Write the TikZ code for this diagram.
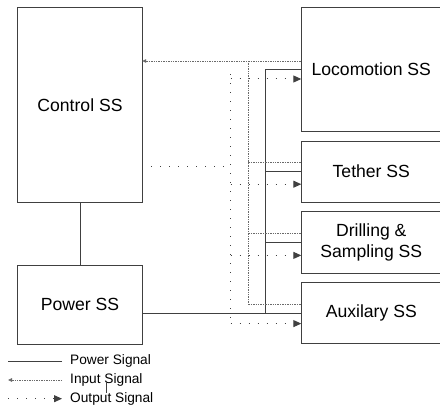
\documentclass[tikz,border=0pt]{standalone}
\usepackage{fontspec}
\setmainfont{Liberation Sans}
\usetikzlibrary{positioning, arrows.meta, calc}
\definecolor{wire}{HTML}{404040}
\definecolor{inwire}{HTML}{6a6a6a}

\begin{document}
\begin{tikzpicture}[
  x=1pt, y=-1pt,
  node distance=9.3pt,
  box/.style={draw=wire, line width=0.9pt, inner sep=0pt, outer sep=0pt,
              minimum width=124.3pt, align=center,
              font=\fontsize{17.6}{20.7}\selectfont},
  sbox/.style={box, minimum width=140pt, minimum height=61.4pt},
  sigpower/.style={wire, line width=0.9pt},
  siginput/.style={inwire, line width=0.8pt, dash pattern=on 1pt off 0.7pt,
                   -{Triangle[length=4pt,width=3.5pt]}},
  sigoutput/.style={wire, line width=1pt, dash pattern=on 1pt off 8pt,
                    -{Triangle[length=8pt,width=7pt]}},
  legend/.style={anchor=west, inner sep=0pt, font=\fontsize{13.7}{16}\selectfont},
]
  \useasboundingbox (0,0) rectangle (440,409);

  % subsystems
  \node[box, minimum height=195pt] (ctrl) at (80,104.8) {Control SS};
  \node[box, minimum height=79pt, below=63pt of ctrl] (power) {Power SS};
  \node[sbox, minimum height=124.4pt, anchor=north west] (loco) at (301.3,7.3) {Locomotion SS};
  \node[sbox, below=of loco] (tether) {Tether SS};
  \node[sbox, below=of tether] (drill) {Drilling \&\\Sampling SS};
  \node[sbox, below=of drill] (aux) {Auxilary SS};

  % bus positions
  \coordinate (outbus) at (230.7,0);
  \coordinate (inbus) at (248.3,0);
  \coordinate (pwrbus) at (265.7,0);

  % power
  \draw[sigpower] (ctrl) -- (power);
  \draw[sigpower] (power.east |- aux.west) -- (aux.west);
  \draw[sigpower] (loco.west -| pwrbus) -- (aux.west -| pwrbus);
  \foreach \b in {loco,tether,drill}
    \draw[sigpower] (\b.west -| pwrbus) -- (\b.west);

  % input
  \draw[siginput] ([yshift=8.5pt]loco.west) -- ([yshift=8.5pt]loco.west -| ctrl.east);
  \draw[siginput, -] ([yshift=8.5pt]loco.west -| inbus) -- ([yshift=9pt]aux.west -| inbus);
  \foreach \b in {tether,drill,aux}
    \draw[siginput, -] ([yshift=9pt]\b.west) -- ([yshift=9pt]\b.west -| inbus);

  % output
  \draw[sigoutput, -] ([yshift=-62.2pt]ctrl.east) -- ([yshift=-62.2pt]ctrl.east -| outbus);
  \draw[sigoutput, -] ([yshift=-5pt]loco.west -| outbus) -- ([yshift=-11pt]aux.west -| outbus);
  \foreach \b/\d in {loco/9.5,tether/12.5,drill/13,aux/10.5}
    \draw[sigoutput] ([yshift=-\d pt]\b.west -| outbus) -- ([yshift=-\d pt]\b.west);

  % legend
  \coordinate (lgl) at (8,0);
  \coordinate (lgr) at (62,0);
  \node[legend] (lgpow) at (70,361.3) {Power Signal};
  \node[legend] (lgin) at (70,380) {Input Signal};
  \node[legend] (lgout) at (70,398.7) {Output Signal};
  \draw[sigpower] (lgpow.west -| lgr) -- (lgpow.west -| lgl);
  \draw[siginput] (lgin.west -| lgr) -- (lgin.west -| lgl);
  \draw[sigoutput] (lgout.west -| lgl) -- (lgout.west -| lgr);
  \draw[wire, line width=0.6pt] (106,382) -- (106,393);
\end{tikzpicture}
\end{document}
